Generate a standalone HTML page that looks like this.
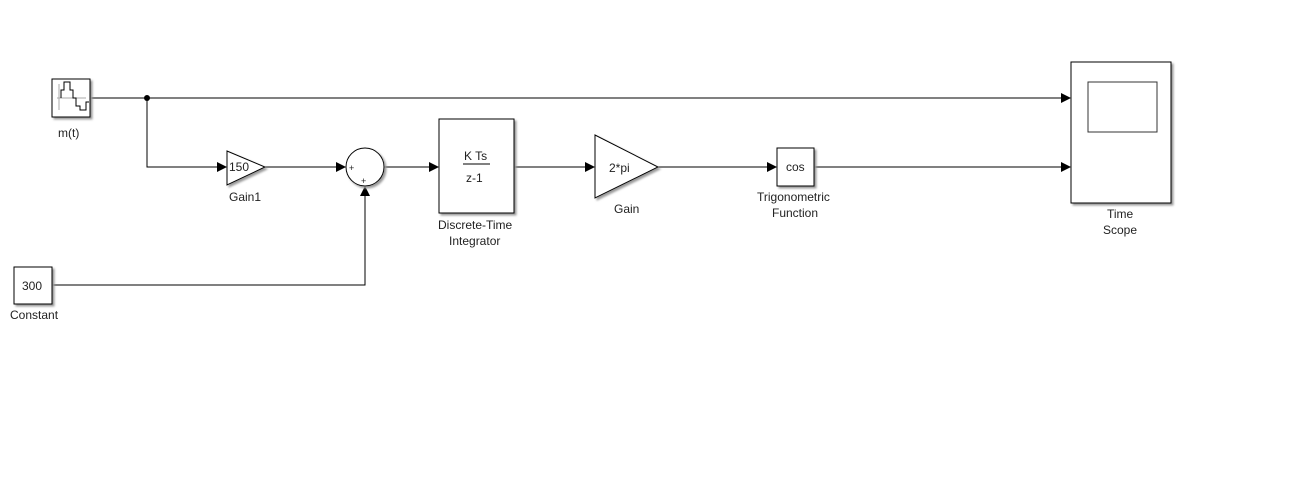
<!DOCTYPE html>
<html><head><style>body{margin:0;background:#fff}svg{display:block}text{font-family:"Liberation Sans",sans-serif;font-size:12px;fill:#222}</style></head><body>
<svg width="1300" height="477" viewBox="0 0 1300 477">
<defs><marker id="a" markerWidth="10" markerHeight="10" refX="9" refY="5" orient="auto" markerUnits="userSpaceOnUse"><path d="M0,0 L10,5 L0,10 z" fill="#000"/></marker>
<filter id="s"><feDropShadow dx="2" dy="2" stdDeviation="1" flood-color="#999"/></filter></defs>
<g stroke="#000" fill="none" stroke-width="1">
<path d="M91,98 H1070" marker-end="url(#a)"/>
<path d="M147,98 V167 H226" marker-end="url(#a)"/>
<path d="M265,167 H345" marker-end="url(#a)"/>
<path d="M52,285 H365 V187" marker-end="url(#a)"/>
<path d="M384,167 H438" marker-end="url(#a)"/>
<path d="M514,167 H594" marker-end="url(#a)"/>
<path d="M658,167 H776" marker-end="url(#a)"/>
<path d="M814,167 H1070" marker-end="url(#a)"/>
</g>
<circle cx="147" cy="98" r="3" fill="#000"/>
<g stroke="#000" fill="#fff" filter="url(#s)">
<rect x="52" y="79" width="38" height="38"/>
<rect x="14" y="267" width="38" height="37"/>
<polygon points="227,151 265,167 227,185"/>
<circle cx="365" cy="167" r="19"/>
<rect x="439" y="119" width="75" height="94"/>
<polygon points="595,135 658,167 595,198"/>
<rect x="777" y="148" width="37" height="38"/>
<rect x="1071" y="62" width="100" height="141"/>
</g>
<rect x="1088" y="82" width="69" height="50" fill="#fff" stroke="#333"/>
<path d="M57,98 H86 M59,84 V110" stroke="#aaa" fill="none"/>
<path d="M61,98 V90 H64 V82 H70 V90 H73 V98 H76 V106 H80 V110 H86 V102 H89" stroke="#000" fill="none"/>
<line x1="463" y1="164" x2="490" y2="164" stroke="#000"/>
<text x="58" y="137">m(t)</text>
<text x="10" y="319">Constant</text>
<text x="22" y="290">300</text>
<text x="229" y="171">150</text>
<text x="229" y="201">Gain1</text>
<text x="349" y="171" style="font-size:9px">+</text>
<text x="361" y="184" style="font-size:9px">+</text>
<text x="464" y="160">K Ts</text>
<text x="466" y="182">z-1</text>
<text x="438" y="229">Discrete-Time</text>
<text x="449" y="245">Integrator</text>
<text x="609" y="172">2*pi</text>
<text x="614" y="213">Gain</text>
<text x="786" y="171">cos</text>
<text x="757" y="201">Trigonometric</text>
<text x="772" y="217">Function</text>
<text x="1107" y="218">Time</text>
<text x="1103" y="234">Scope</text>
</svg></body></html>
